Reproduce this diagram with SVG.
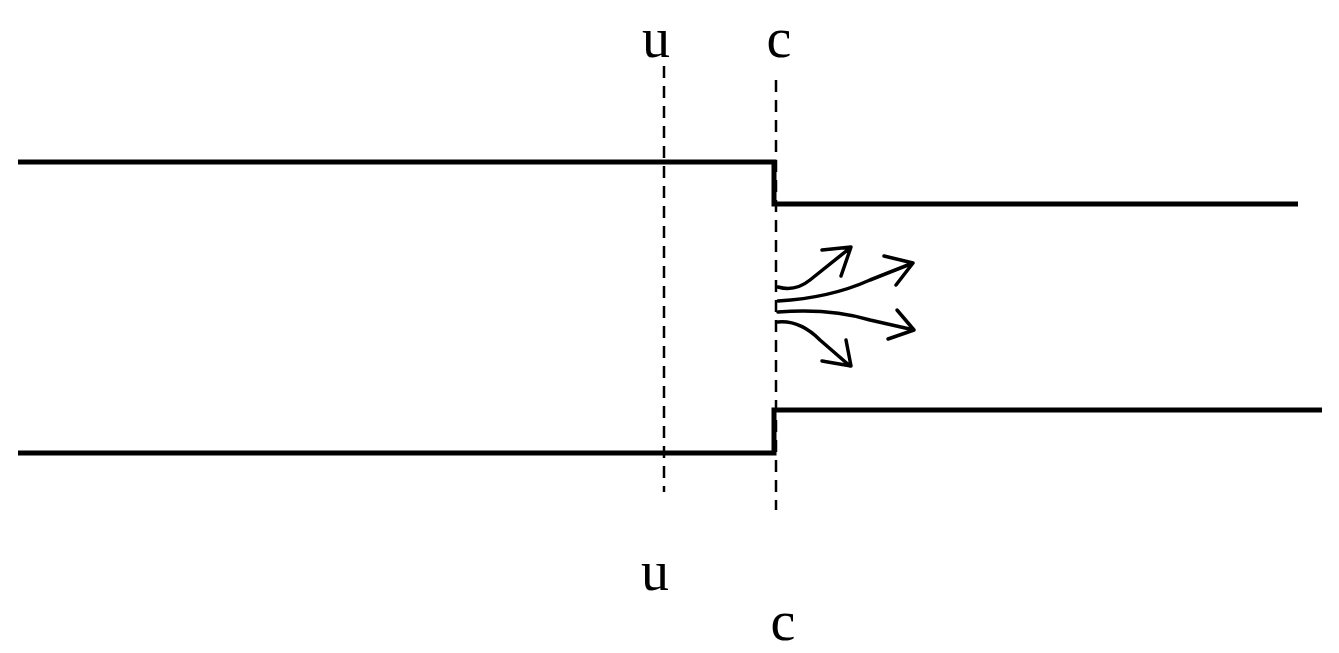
<svg xmlns="http://www.w3.org/2000/svg" width="1339" height="653" viewBox="0 0 1339 653">
<style>
.w{fill:none;stroke:#000;stroke-width:5}
.d{fill:none;stroke:#000;stroke-width:2.5;stroke-dasharray:12,8}
.a{fill:none;stroke:#000;stroke-width:3.5;stroke-linecap:round;stroke-linejoin:round}
text{font-family:"Liberation Serif",serif;font-size:56px;fill:#000;text-anchor:middle}
</style>
<rect width="1339" height="653" fill="#fff"/>
<g id="walls">
<path class="w" d="M18 162 H774 V204 H1298"/>
<path class="w" d="M18 453 H774 V410 H1322"/>
</g>
<g id="sections">
<line class="d" x1="664" y1="66" x2="664" y2="492"/>
<line class="d" x1="776" y1="80" x2="776" y2="510"/>
<text x="656" y="57">u</text>
<text x="779" y="57">c</text>
<text x="655" y="590">u</text>
<text x="783" y="640">c</text>
</g>
<g id="connectors">
<path class="a" d="M778 287 Q795 292 810 280 L850 248 M822 250 L851 247 L841 276"/>
<path class="a" d="M778 301 Q830 298 870 280 L913 263 M884 256 L913 263 L896 285"/>
<path class="a" d="M778 312 Q830 308 870 320 L914 330 M897 310 L914 330 L888 339"/>
<path class="a" d="M778 322 Q800 320 820 340 L850 366 M822 361 L851 366 L846 340"/>
</g>
</svg>
